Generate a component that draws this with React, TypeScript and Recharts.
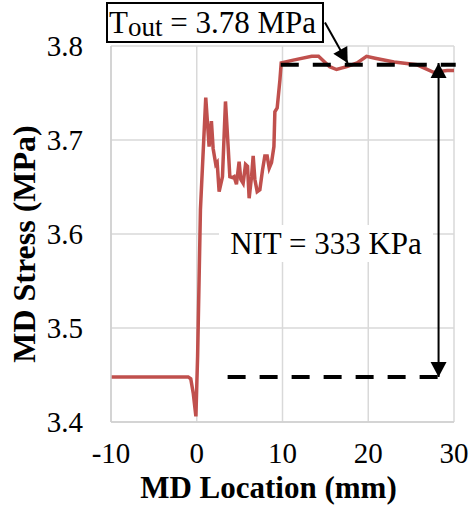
import React from "react";
import {
  LineChart,
  Line,
  XAxis,
  YAxis,
  CartesianGrid,
  ReferenceLine,
  Label,
} from "recharts";

// MD location (mm)
const locations = [
  -10, -5, -1, -0.7, -0.4, -0.1, 0.1, 0.43, 1.05, 1.44, 1.71, 1.91, 2.22, 2.38,
  2.61, 3.0, 3.35, 3.66, 3.86, 4.17, 4.36, 4.63, 4.94, 5.14, 5.41, 5.69, 5.92,
  6.11, 6.39, 6.58, 6.78, 7.05, 7.36, 7.67, 7.94, 8.21, 8.45, 8.72, 9.0, 9.11,
  9.38, 9.7, 9.85, 11.25, 13.4, 14.2, 15.5, 16.3, 17.5, 18.7, 19.8, 20.8, 23,
  25.7, 27.6, 29.2, 30,
];
// MD stress (MPa)
const stress = [
  3.448, 3.448, 3.448, 3.446, 3.43, 3.406, 3.47, 3.626, 3.745, 3.693, 3.72,
  3.691, 3.674, 3.676, 3.645, 3.661, 3.741, 3.693, 3.661, 3.66, 3.661, 3.653,
  3.677, 3.658, 3.654, 3.674, 3.672, 3.638, 3.661, 3.683, 3.658, 3.645, 3.647,
  3.668, 3.683, 3.683, 3.67, 3.676, 3.693, 3.73, 3.734, 3.764, 3.782, 3.785,
  3.789, 3.789, 3.778, 3.775, 3.778, 3.782, 3.789, 3.787, 3.783, 3.78, 3.772,
  3.774, 3.774,
];

const xTicks = [-10, 0, 10, 20, 30];
const yTicks = [3.4, 3.5, 3.6, 3.7, 3.8];

const tOut = 3.78;
const tIn = 3.448;
const nitX = 28.2;

const data = locations.map((x, i) => ({ x, y: stress[i] }));

const serif = "'Liberation Serif', 'Times New Roman', serif";

const head = (tx: number, ty: number, fx: number, fy: number, len = 15, half = 8) => {
  const dx = tx - fx;
  const dy = ty - fy;
  const d = Math.hypot(dx, dy) || 1;
  const ux = dx / d;
  const uy = dy / d;
  const bx = tx - ux * len;
  const by = ty - uy * len;
  return `${tx},${ty} ${bx - uy * half},${by + ux * half} ${bx + uy * half},${by - ux * half}`;
};

const SingleArrow = (props: any) => {
  const { x1, y1, x2, y2 } = props;
  return (
    <g>
      <line x1={x1} y1={y1} x2={x2} y2={y2} stroke="#000" strokeWidth={2} />
      <polygon points={head(x2, y2, x1, y1)} fill="#000" />
    </g>
  );
};

const DoubleArrow = (props: any) => {
  const { x1, y1, x2, y2 } = props;
  return (
    <g>
      <line x1={x1} y1={y1} x2={x2} y2={y2} stroke="#000" strokeWidth={2} />
      <polygon points={head(x1, y1, x2, y2)} fill="#000" />
      <polygon points={head(x2, y2, x1, y1)} fill="#000" />
    </g>
  );
};

const XTitle = (props: any) => {
  const { x, y, width, height } = props.viewBox;
  return (
    <text
      x={x + width / 2 - 14}
      y={y + height - 7}
      textAnchor="middle"
      fontFamily={serif}
      fontWeight="bold"
      fontSize={31}
      fill="#000"
    >
      MD Location (mm)
    </text>
  );
};

const YTitle = (props: any) => {
  const { x, y, height } = props.viewBox;
  return (
    <text
      transform={`translate(${x + 35},${y + height / 2 + 10}) rotate(-90)`}
      textAnchor="middle"
      fontFamily={serif}
      fontWeight="bold"
      fontSize={32}
      fill="#000"
    >
      MD Stress (MPa)
    </text>
  );
};

export default function App() {
  return (
    <div
      style={{
        position: "absolute",
        left: 0,
        top: 0,
        width: 474,
        height: 505,
        background: "#fff",
        fontFamily: serif,
      }}
    >
      <LineChart
        width={474}
        height={505}
        data={data}
        margin={{ top: 46, right: 20, bottom: 0, left: 0 }}
      >
        <CartesianGrid stroke="#d9d9d9" strokeWidth={1.5} />
        <XAxis
          type="number"
          dataKey="x"
          domain={[-10, 30]}
          ticks={xTicks}
          height={83}
          axisLine={{ stroke: "#cfcfcf", strokeWidth: 1.5 }}
          tickLine={false}
          tickMargin={14}
          tick={{ fill: "#000", fontSize: 29, fontFamily: serif }}
          interval={0}
        >
          <Label content={<XTitle />} />
        </XAxis>
        <YAxis
          type="number"
          domain={[3.4, 3.8]}
          ticks={yTicks}
          width={111}
          axisLine={{ stroke: "#cfcfcf", strokeWidth: 1.5 }}
          tickLine={false}
          tickMargin={22}
          tickFormatter={(v: number) => v.toFixed(1)}
          tick={{ fill: "#000", fontSize: 29, fontFamily: serif }}
          interval={0}
        >
          <Label content={<YTitle />} />
        </YAxis>
        <Line
          type="linear"
          dataKey="y"
          stroke="#c0504d"
          strokeWidth={3.5}
          dot={false}
          isAnimationActive={false}
        />
        <ReferenceLine
          segment={[
            { x: 9.8, y: tOut },
            { x: 30.2, y: tOut },
          ]}
          stroke="#000"
          strokeWidth={4}
          strokeDasharray="18 14"
          ifOverflow="visible"
        />
        <ReferenceLine
          segment={[
            { x: 3.6, y: tIn },
            { x: nitX, y: tIn },
          ]}
          stroke="#000"
          strokeWidth={4}
          strokeDasharray="18 14"
          ifOverflow="visible"
        />
        <ReferenceLine
          segment={[
            { x: nitX, y: tIn },
            { x: nitX, y: 3.782 },
          ]}
          shape={<DoubleArrow />}
          ifOverflow="visible"
        />
        <ReferenceLine
          segment={[
            { x: 14.95, y: 3.825 },
            { x: 17.6, y: 3.782 },
          ]}
          shape={<SingleArrow />}
          ifOverflow="visible"
        />
      </LineChart>
      <div
        style={{
          position: "absolute",
          left: 106,
          top: 2,
          width: 218,
          height: 41,
          boxSizing: "border-box",
          border: "2px solid #000",
          background: "#fff",
          fontSize: 31,
          lineHeight: "37px",
          paddingLeft: 1,
          whiteSpace: "nowrap",
          color: "#000",
        }}
      >
        T<span style={{ fontSize: 27, position: "relative", top: 3 }}>out</span> = 3.78 MPa
      </div>
      <div
        style={{
          position: "absolute",
          left: 219,
          top: 225,
          width: 214,
          height: 37,
          background: "#fff",
          fontSize: 31,
          lineHeight: "37px",
          textAlign: "center",
          whiteSpace: "nowrap",
          color: "#000",
        }}
      >
        NIT = 333 KPa
      </div>
    </div>
  );
}
